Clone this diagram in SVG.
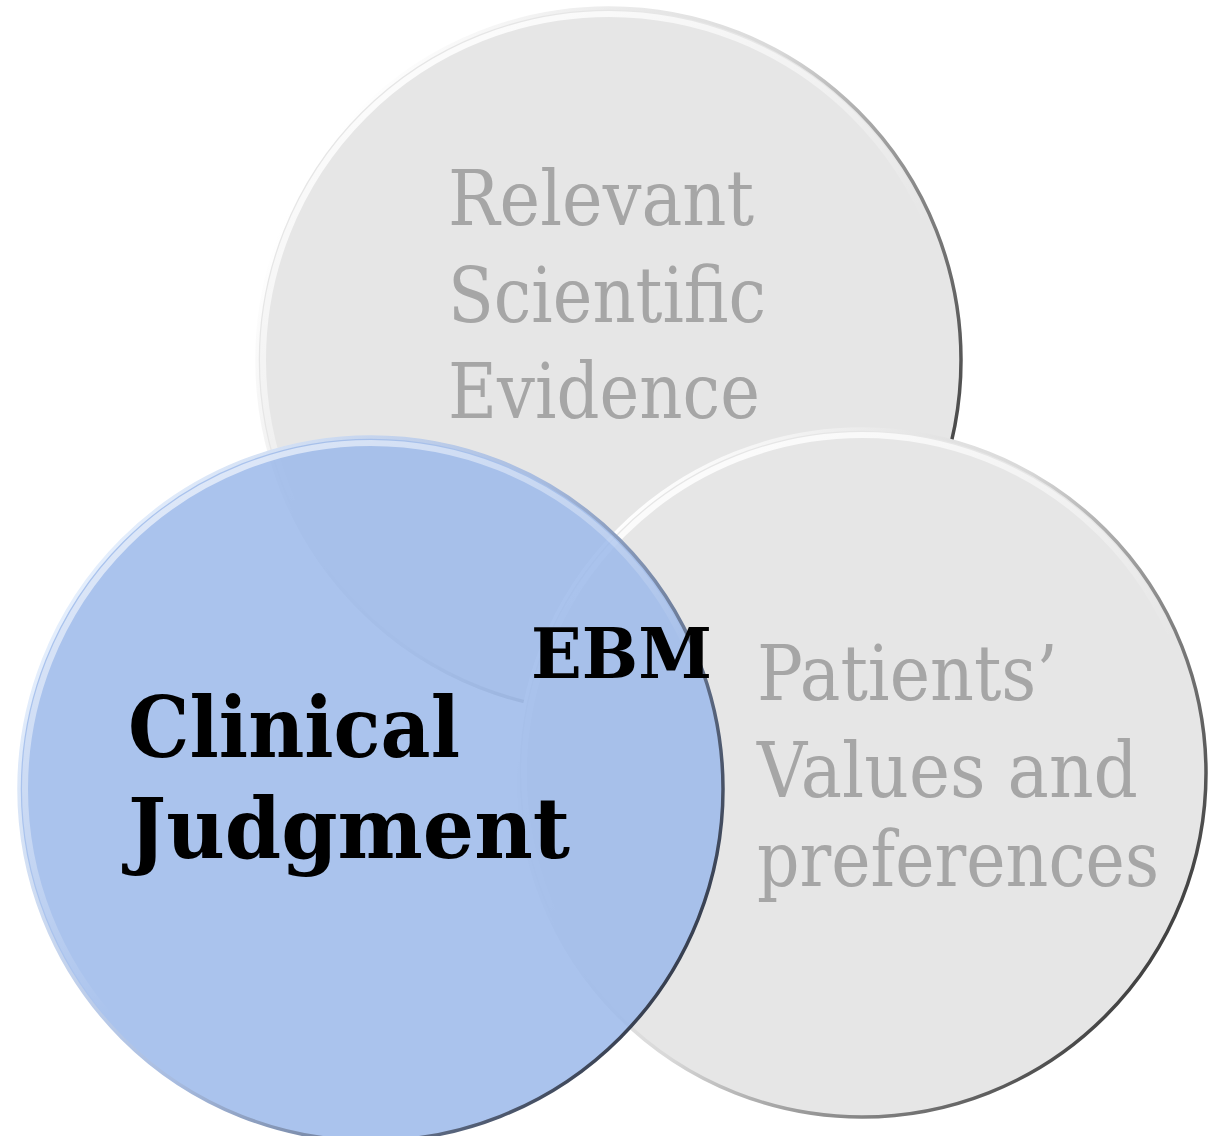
<svg xmlns="http://www.w3.org/2000/svg" width="1210" height="1136" viewBox="0 0 1210 1136">
<defs>
<linearGradient id="rim" x1="0.1" y1="0.2" x2="1" y2="0.75">
<stop offset="0" stop-color="#ffffff"/>
<stop offset="0.45" stop-color="#d8d8d8"/>
<stop offset="0.7" stop-color="#8a8a8a"/>
<stop offset="1" stop-color="#333333"/>
</linearGradient>
<linearGradient id="hi" x1="0.2" y1="0" x2="0.7" y2="0.8">
<stop offset="0" stop-color="#ffffff" stop-opacity="0.95"/>
<stop offset="0.4" stop-color="#ffffff" stop-opacity="0.5"/>
<stop offset="0.7" stop-color="#ffffff" stop-opacity="0"/>
</linearGradient>
<linearGradient id="rimb" x1="0.1" y1="0.2" x2="1" y2="0.75">
<stop offset="0" stop-color="#e4eefc"/>
<stop offset="0.45" stop-color="#a8bce0"/>
<stop offset="0.7" stop-color="#6f7f9c"/>
<stop offset="1" stop-color="#2c3240"/>
</linearGradient>
<style>
.gray{fill:#e6e6e6}
.blue{fill:#9bb9ea;fill-opacity:0.85}
.rim{fill:none;stroke:url(#rim);stroke-width:3.5}
.rimb{fill:none;stroke:url(#rimb);stroke-width:3.5}
.hi{fill:none;stroke:url(#hi);stroke-width:6}
.lt{font-family:"DejaVu Serif","Liberation Serif",serif;fill:#a6a6a6;font-size:76px}
.bd{font-family:"DejaVu Serif","Liberation Serif",serif;fill:#000;font-weight:bold}
</style>
</defs>
<rect width="1210" height="1136" fill="#ffffff"/>
<g id="evidence">
<circle class="gray" cx="609" cy="360" r="353"/>
<circle class="hi" cx="609" cy="360" r="346"/>
<circle class="rim" cx="609" cy="360" r="352"/>
<text class="lt" x="448" y="225" textLength="306" lengthAdjust="spacingAndGlyphs">Relevant</text>
<text class="lt" x="448" y="322" textLength="318" lengthAdjust="spacingAndGlyphs">Scientific</text>
<text class="lt" x="448" y="418" textLength="312" lengthAdjust="spacingAndGlyphs">Evidence</text>
</g>
<g id="patients">
<circle class="gray" cx="862" cy="773" r="345"/>
<circle class="hi" cx="862" cy="773" r="338"/>
<circle class="rim" cx="862" cy="773" r="344"/>
<text class="lt" x="757" y="700" textLength="301" lengthAdjust="spacingAndGlyphs">Patients’</text>
<text class="lt" x="757" y="797" textLength="381" lengthAdjust="spacingAndGlyphs">Values and</text>
<text class="lt" x="757" y="886" textLength="402" lengthAdjust="spacingAndGlyphs">preferences</text>
</g>
<g id="clinical">
<circle class="blue" cx="371" cy="789" r="353"/>
<circle class="hi" cx="371" cy="789" r="346" opacity="0.7"/>
<circle class="rimb" cx="371" cy="789" r="352"/>
<text class="bd" x="128" y="757" font-size="84" textLength="332" lengthAdjust="spacingAndGlyphs">Clinical</text>
<text class="bd" x="128" y="858" font-size="84" textLength="442" lengthAdjust="spacingAndGlyphs">Judgment</text>
</g>
<g id="ebm">
<text class="bd" x="531" y="678" font-size="70" textLength="181" lengthAdjust="spacingAndGlyphs">EBM</text>
</g>
<g id="connectors"/>
</svg>
